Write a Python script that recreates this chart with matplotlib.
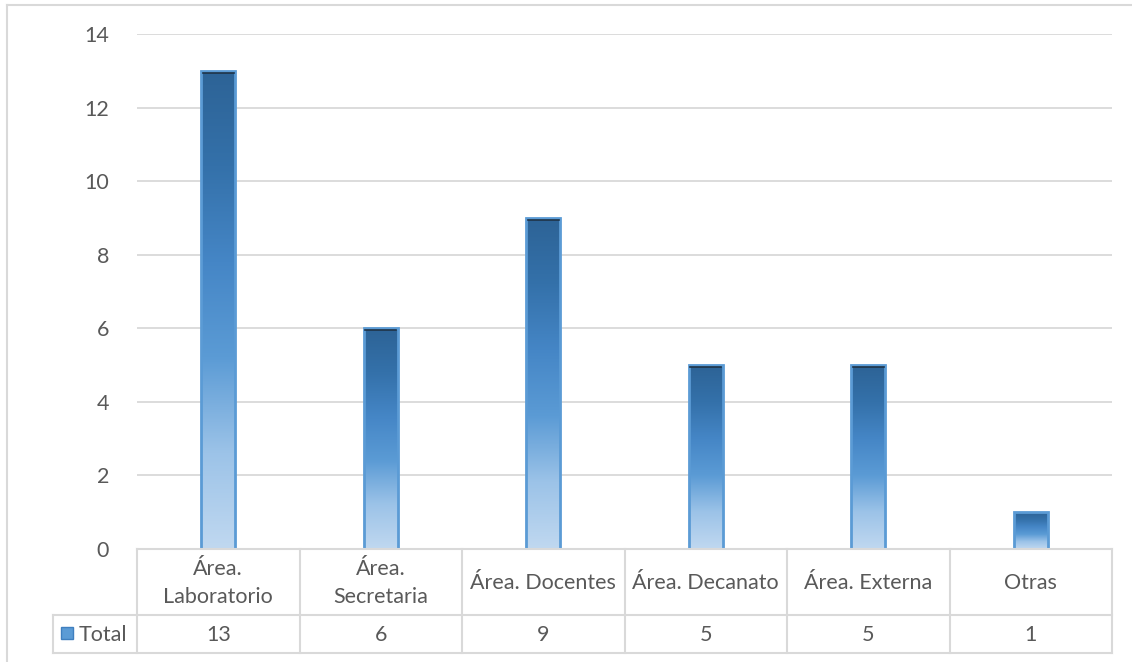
import numpy as np
import matplotlib.pyplot as plt
from matplotlib.colors import LinearSegmentedColormap
from matplotlib.patches import Rectangle

# Datos de la gráfica
categorias = ["Área.\nLaboratorio", "Área.\nSecretaria", "Área. Docentes",
              "Área. Decanato", "Área. Externa", "Otras"]
totales = [13, 6, 9, 5, 5, 1]
serie = "Total"
yticks = [0, 2, 4, 6, 8, 10, 12, 14]

plt.rcParams['font.family'] = ['Lato', 'DejaVu Sans']
gris = "#595959"
linea = "#d9d9d9"
fs = 15.5

W, H = 1132, 662
fig = plt.figure(figsize=(W / 100, H / 100), dpi=100)

# marco exterior del gráfico
fig.add_artist(plt.Line2D([7 / W, 7 / W], [0, 1 - 5 / H], color=linea, lw=1.5))
fig.add_artist(plt.Line2D([7 / W, 1], [1 - 5 / H, 1 - 5 / H], color=linea, lw=1.5))

x0, x1, y0, y1 = 137, 1112, 549, 34
ax = fig.add_axes([x0 / W, 1 - y0 / H, (x1 - x0) / W, (y0 - y1) / H])
n = len(categorias)
ax.set_xlim(0, n)
ax.set_ylim(0, 14)
ax.set_yticks(yticks)
ax.yaxis.grid(True, color=linea, lw=1.3)
ax.set_axisbelow(True)
ax.set_xticks([])
ax.tick_params(axis='y', length=0, labelsize=fs, labelcolor=gris, pad=20)
for s in ax.spines.values():
    s.set_visible(False)

# degradado de las barras
cmap = LinearSegmentedColormap.from_list(
    "azul", ["#c0d8f0", "#9cc3e8", "#5b9bd5", "#4586c6", "#3471aa", "#2d6396"])
grad = np.linspace(0, 1, 256).reshape(-1, 1)
ancho = 0.21
for i, v in enumerate(totales):
    cx = i + 0.5
    bar = Rectangle((cx - ancho / 2, 0), ancho, v, facecolor="none",
                    edgecolor="#5b9bd5", lw=2, zorder=3)
    ax.add_patch(bar)
    im = ax.imshow(grad, cmap=cmap, aspect='auto', origin='lower',
                   extent=(cx - ancho / 2, cx + ancho / 2, 0, v), zorder=2)
    im.set_clip_path(bar)
    if v > 2:
        ax.plot([cx - ancho / 2 + 0.01, cx + ancho / 2 - 0.01], [v - 0.05, v - 0.05],
                color="#1f3347", lw=1.2, zorder=4)

# tabla de datos bajo el eje
tb = fig.add_axes([0, 0, 1, 1], facecolor="none")
tb.set_xlim(0, W)
tb.set_ylim(H, 0)
tb.axis('off')
col = (x1 - x0) / n
ya, yb, yc = 549, 615, 653
tb.plot([x0, x1], [ya, ya], color=linea, lw=1.5)
tb.plot([53, x1], [yb, yb], color=linea, lw=1.5)
tb.plot([53, x1], [yc, yc], color=linea, lw=1.5)
tb.plot([53, 53], [yb, yc], color=linea, lw=1.5)
for k in range(n + 1):
    tb.plot([x0 + k * col, x0 + k * col], [ya, yc], color=linea, lw=1.5)
for i, (c, v) in enumerate(zip(categorias, totales)):
    cx = x0 + (i + 0.5) * col
    tb.text(cx, (ya + yb) / 2 + 1, c, ha='center', va='center', fontsize=fs,
            color=gris, linespacing=1.45)
    tb.text(cx, (yb + yc) / 2 + 1, str(v), ha='center', va='center', fontsize=fs,
            color=gris)
# clave de la serie
leg = Rectangle((61, 627), 12, 12, facecolor="#5b9bd5", edgecolor="#3f7fbf", lw=1)
tb.add_patch(leg)
tb.text(79, (yb + yc) / 2 + 1, serie, ha='left', va='center', fontsize=fs, color=gris)

fig.savefig("out.png", dpi=100)
